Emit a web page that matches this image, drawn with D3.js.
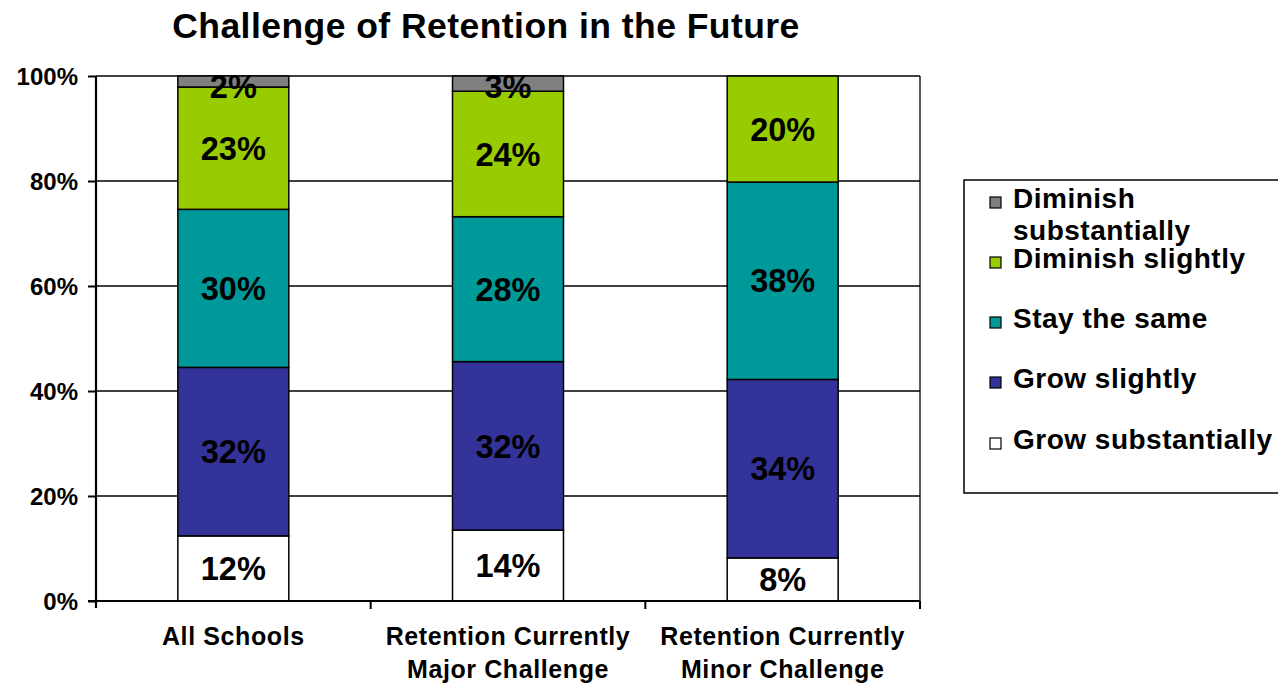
<!DOCTYPE html>
<html>
<head>
<meta charset="utf-8">
<script src="https://cdn.jsdelivr.net/npm/d3@7"></script>
<style>
  body { margin: 0; background: #fff; }
  svg { display: block; font-family: "Liberation Sans", Arial, sans-serif; font-weight: bold; }
</style>
</head>
<body>
<script>
// groups along the x axis (two-line labels)
const groups = ["All Schools", "Retention Currently Major Challenge", "Retention Currently Minor Challenge"];
const groupLines = [["All Schools"], ["Retention Currently", "Major Challenge"], ["Retention Currently", "Minor Challenge"]];

// stack order, bottom to top
const series = ["Grow substantially", "Grow slightly", "Stay the same", "Diminish slightly", "Diminish substantially"];
const colors = ["#ffffff", "#333399", "#009999", "#99cc00", "#808080"];

// shares (%), one array per series
const growSubst   = [12.4, 13.5, 8.2];
const growSlight  = [32.1, 32.1, 34.0];
const staySame    = [30.1, 27.6, 37.6];
const dimSlight   = [23.3, 23.9, 20.2];
const dimSubst    = [2.1, 2.9, 0];

const yTicks = [0, 20, 40, 60, 80, 100];

const width = 1278, height = 684;
const margin = {top: 76, right: 358, bottom: 83, left: 96};

const rows = groups.map((g, i) => ({
  group: g,
  "Grow substantially": growSubst[i],
  "Grow slightly": growSlight[i],
  "Stay the same": staySame[i],
  "Diminish slightly": dimSlight[i],
  "Diminish substantially": dimSubst[i]
}));

const svg = d3.select("body").append("svg")
    .attr("width", width)
    .attr("height", height);

const x = d3.scaleBand()
    .domain(groups)
    .range([margin.left, width - margin.right])
    .paddingInner(0.596)
    .paddingOuter(0.298);

const y = d3.scaleLinear()
    .domain([0, 100])
    .range([height - margin.bottom, margin.top]);

const color = d3.scaleOrdinal(series, colors);

// title
svg.append("text")
    .attr("x", 486)
    .attr("y", 38)
    .attr("text-anchor", "middle")
    .style("font-size", "35.5px")
    .style("letter-spacing", "0.45px")
    .text("Challenge of Retention in the Future");

// gridlines
svg.append("g")
  .selectAll("line")
  .data(yTicks.slice(1))
  .join("line")
    .attr("x1", margin.left)
    .attr("x2", width - margin.right)
    .attr("y1", d => y(d))
    .attr("y2", d => y(d))
    .attr("stroke", "#000")
    .attr("stroke-width", 1.3);

// right border of plot area
svg.append("line")
    .attr("x1", width - margin.right).attr("x2", width - margin.right)
    .attr("y1", y(100)).attr("y2", y(0))
    .attr("stroke", "#000")
    .attr("stroke-width", 1.3);

// bars
const stack = d3.stack().keys(series)(rows);

const layer = svg.append("g")
  .selectAll("g")
  .data(stack)
  .join("g")
    .attr("fill", d => color(d.key));

layer.selectAll("rect")
  .data(d => d.filter(s => s[1] - s[0] > 0))
  .join("rect")
    .attr("x", d => x(d.data.group))
    .attr("width", x.bandwidth())
    .attr("y", d => y(d[1]))
    .attr("height", d => y(d[0]) - y(d[1]))
    .attr("stroke", "#000")
    .attr("stroke-width", 1.5);

layer.selectAll("text")
  .data(d => d.filter(s => s[1] - s[0] > 0))
  .join("text")
    .attr("x", d => x(d.data.group) + x.bandwidth() / 2)
    .attr("y", d => Math.max(y((d[0] + d[1]) / 2), y(100) + 10))
    .attr("dy", "0.36em")
    .attr("text-anchor", "middle")
    .attr("fill", "#000")
    .style("font-size", "32.5px")
    .text(d => d3.format(".0f")(d[1] - d[0]) + "%");

// y axis
const yAxis = svg.append("g")
    .attr("transform", `translate(${margin.left},0)`)
    .call(d3.axisLeft(y).tickValues(yTicks).tickFormat(d => d + "%").tickSize(8).tickPadding(10));
yAxis.select(".domain").attr("stroke-width", 2.2).attr("d", `M0,${y(100)}V${y(0) + 7}`);
yAxis.selectAll(".tick line").attr("stroke-width", 2);
yAxis.selectAll(".tick text")
    .attr("fill", "#000")
    .attr("dy", "0.36em")
    .style("font-family", "'Liberation Sans', Arial, sans-serif")
    .style("font-size", "24px")
    .style("font-weight", "bold");

// x axis baseline and category separators
const xAxis = svg.append("g");
xAxis.append("line")
    .attr("x1", margin.left - 8).attr("x2", width - margin.right)
    .attr("y1", y(0)).attr("y2", y(0))
    .attr("stroke", "#000")
    .attr("stroke-width", 2.2);
const step = x.step();
xAxis.selectAll(".sep")
  .data(groups)
  .join("line")
    .attr("class", "sep")
    .attr("x1", d => x(d) - x.paddingInner() * step / 2 + step)
    .attr("x2", d => x(d) - x.paddingInner() * step / 2 + step)
    .attr("y1", y(0))
    .attr("y2", y(0) + 8)
    .attr("stroke", "#000")
    .attr("stroke-width", 2);

xAxis.selectAll(".lab")
  .data(groups)
  .join("text")
    .attr("class", "lab")
    .attr("text-anchor", "middle")
    .style("font-size", "25px")
    .style("letter-spacing", "0.6px")
    .selectAll("tspan")
    .data((d, i) => groupLines[i].map(t => ({t, g: d})))
    .join("tspan")
      .attr("x", d => x(d.g) + x.bandwidth() / 2)
      .attr("y", (d, i) => 645 + i * 33)
      .text(d => d.t);

// legend
const legend = svg.append("g");
legend.append("rect")
    .attr("x", 964).attr("y", 180)
    .attr("width", 330).attr("height", 313)
    .attr("fill", "#fff")
    .attr("stroke", "#000")
    .attr("stroke-width", 1.5);

const legendItems = [
  {key: "Diminish substantially", lines: ["Diminish", "substantially"], y: 208},
  {key: "Diminish slightly", lines: ["Diminish slightly"], y: 268},
  {key: "Stay the same", lines: ["Stay the same"], y: 328},
  {key: "Grow slightly", lines: ["Grow slightly"], y: 388},
  {key: "Grow substantially", lines: ["Grow substantially"], y: 449}
];

const li = legend.selectAll(".item")
  .data(legendItems)
  .join("g")
    .attr("class", "item");

li.append("rect")
    .attr("x", 990)
    .attr("y", d => d.y - 11)
    .attr("width", 11).attr("height", 11)
    .attr("fill", d => color(d.key))
    .attr("stroke", "#000")
    .attr("stroke-width", 1.2);

li.append("text")
    .style("font-size", "28px")
    .style("letter-spacing", "0.5px")
    .selectAll("tspan")
    .data(d => d.lines.map((t, i) => ({t, y: d.y + i * 32})))
    .join("tspan")
      .attr("x", 1013)
      .attr("y", d => d.y)
      .text(d => d.t);
</script>
</body>
</html>
